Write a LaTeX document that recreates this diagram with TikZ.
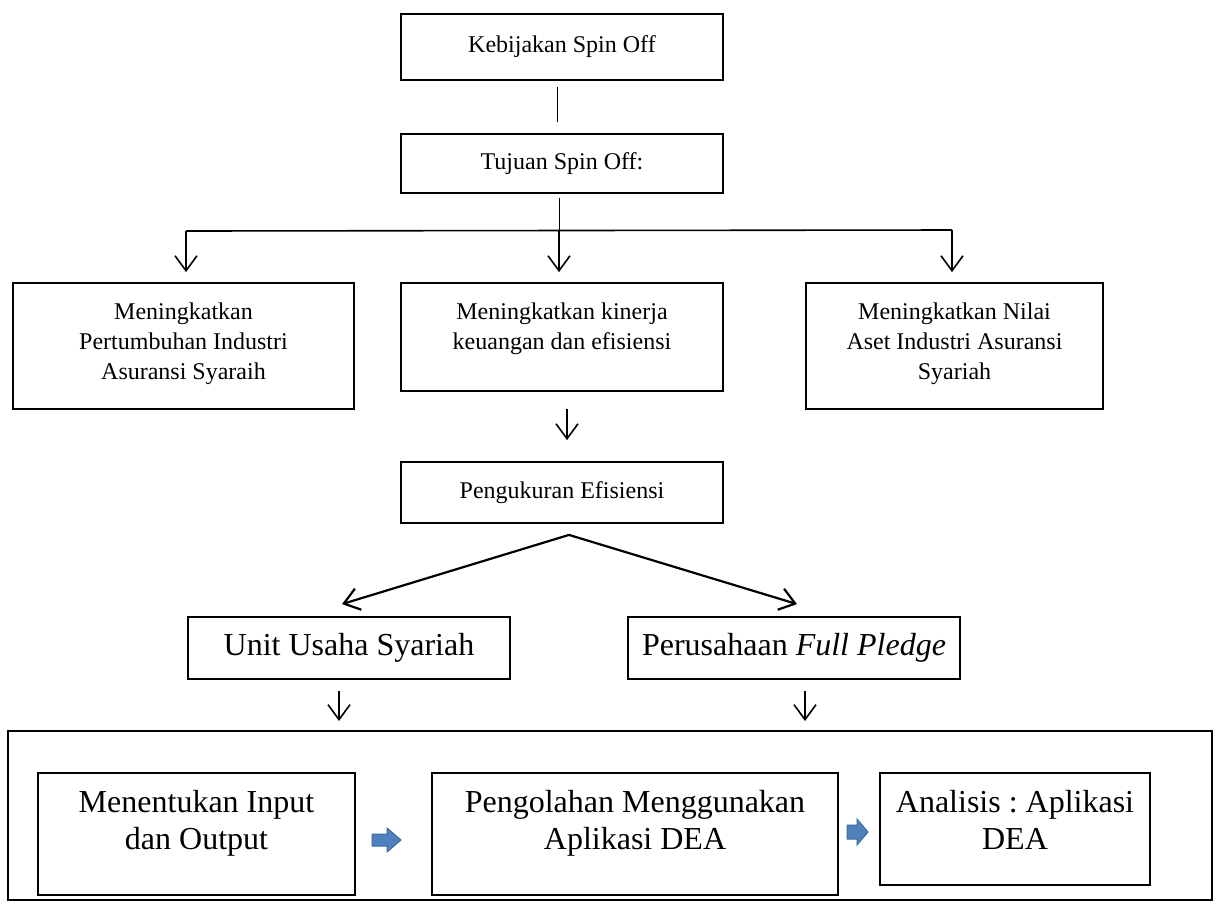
\documentclass[tikz,border=0pt]{standalone}
\usepackage{fontspec}
\setmainfont{Liberation Serif}
\usetikzlibrary{arrows.meta}
\definecolor{arrfill}{HTML}{4F81BD}
\definecolor{arrline}{HTML}{3A6A9F}
\frenchspacing
\begin{document}
\begin{tikzpicture}[x=0.5pt,y=-0.5pt,
    box/.style={draw,line width=0.9pt,inner sep=0pt},
    txt/.style={font=\fontsize{12}{15}\selectfont,align=center,inner sep=0pt},
    bigtxt/.style={font=\fontsize{16}{18.5}\selectfont,align=center,inner sep=0pt},
    link/.style={line width=0.8pt},
    arr/.style={line width=0.8pt,-{Straight Barb[length=7.5pt,width=11pt]}},
    blockarr/.style={fill=arrfill,draw=arrline,line width=0.5pt}]
  \useasboundingbox (0,0) rectangle (1222,912);
  % top
  \node[box,txt,minimum width=161pt,minimum height=33pt] (keb) at (562,47) {Kebijakan Spin Off};
  \node[box,txt,minimum width=161pt,minimum height=29.5pt] (tuj) at (562,163.5) {Tujuan Spin Off:};
  % goals
  \node[box,minimum width=170.5pt,minimum height=63pt] (grow) at (183.5,346) {};
  \node[txt,anchor=north] (grow-t) at ([yshift=-10.25pt]grow.north)
    {Meningkatkan\\Pertumbuhan Industri\\Asuransi Syaraih};
  \node[box,minimum width=161pt,minimum height=54pt] (kin) at (562,337) {};
  \node[txt,anchor=north] (kin-t) at ([yshift=-10.25pt]kin.north)
    {Meningkatkan kinerja\\keuangan dan efisiensi};
  \node[box,minimum width=148.5pt,minimum height=63pt] (aset) at (954.5,346) {};
  \node[txt,anchor=north] (aset-t) at ([yshift=-10.25pt]aset.north)
    {Meningkatkan Nilai\\Aset Industri Asuransi\\Syariah};
  \node[box,txt,minimum width=161pt,minimum height=30.5pt] (ukur) at (562,492.5) {Pengukuran Efisiensi};
  % two groups
  \node[box,bigtxt,minimum width=161pt,minimum height=31pt] (uus) at (349,648) {Unit Usaha Syariah};
  \node[box,bigtxt,minimum width=166pt,minimum height=31pt] (full) at (794,648) {Perusahaan \textit{Full Pledge}};
  % DEA steps
  \node[box,line width=1pt,minimum width=602pt,minimum height=84.5pt] (outer) at (610,815.5) {};
  \node[box,minimum width=158.5pt,minimum height=61pt] (inp) at (196.5,834) {};
  \node[bigtxt,anchor=north] (inp-t) at ([yshift=-9pt]inp.north) {Menentukan Input\\dan Output};
  \node[box,minimum width=203pt,minimum height=61pt] (olah) at (635,834) {};
  \node[bigtxt,anchor=north] (olah-t) at ([yshift=-9pt]olah.north) {Pengolahan Menggunakan\\Aplikasi DEA};
  \node[box,minimum width=135pt,minimum height=56pt] (anal) at (1015,829) {};
  \node[bigtxt,anchor=north] (anal-t) at ([yshift=-9pt]anal.north) {Analisis : Aplikasi\\DEA};
  % connectors
  \coordinate (hl) at (186,231);
  \coordinate (hm) at (559,230);
  \coordinate (hr) at (952,230);
  \draw[line width=0.5pt] ([xshift=-2.5pt,yshift=-3pt]keb.south) -- ([xshift=-2.5pt,yshift=5.5pt]tuj.north);
  \draw[line width=0.5pt] ([xshift=-1.5pt,yshift=-2pt]tuj.south) -- (hm);
  \draw[link] (hl) -- (hr);
  \draw[arr] (hl) -- ([yshift=5pt]hl |- grow.north);
  \draw[arr] (hm) -- ([yshift=5pt]hm |- kin.north);
  \draw[arr] (hr) -- ([yshift=5pt]hr |- aset.north);
  \draw[arr] ([xshift=2.5pt,yshift=-8.5pt]kin.south) -- ([xshift=2.5pt,yshift=10.5pt]ukur.north);
  \coordinate (apex) at ([xshift=3.5pt,yshift=-5.5pt]ukur.south);
  \draw[arr,line width=1.1pt] (apex) -- ([xshift=-3.5pt,yshift=6pt]uus.north);
  \draw[arr,line width=1.1pt] (apex) -- ([xshift=1.5pt,yshift=6pt]full.north);
  \draw[arr] ([xshift=-5pt,yshift=-5.5pt]uus.south) -- ([xshift=-5pt,yshift=4.5pt]uus.south |- outer.north);
  \draw[arr] ([xshift=5.5pt,yshift=-5.5pt]full.south) -- ([xshift=5.5pt,yshift=4.5pt]full.south |- outer.north);
  % block arrows
  \coordinate (ba1) at (372,840);
  \coordinate (ba2) at (847,832);
  \filldraw[blockarr] (ba1) ++(0,-6) -- ++(15,0) -- ++(0,-6) -- ++(14,12) -- ++(-14,12) -- ++(0,-6) -- ++(-15,0) -- cycle;
  \filldraw[blockarr] (ba2) ++(0,-7) -- ++(10,0) -- ++(0,-6) -- ++(11,13) -- ++(-11,13) -- ++(0,-6) -- ++(-10,0) -- cycle;
\end{tikzpicture}
\end{document}
